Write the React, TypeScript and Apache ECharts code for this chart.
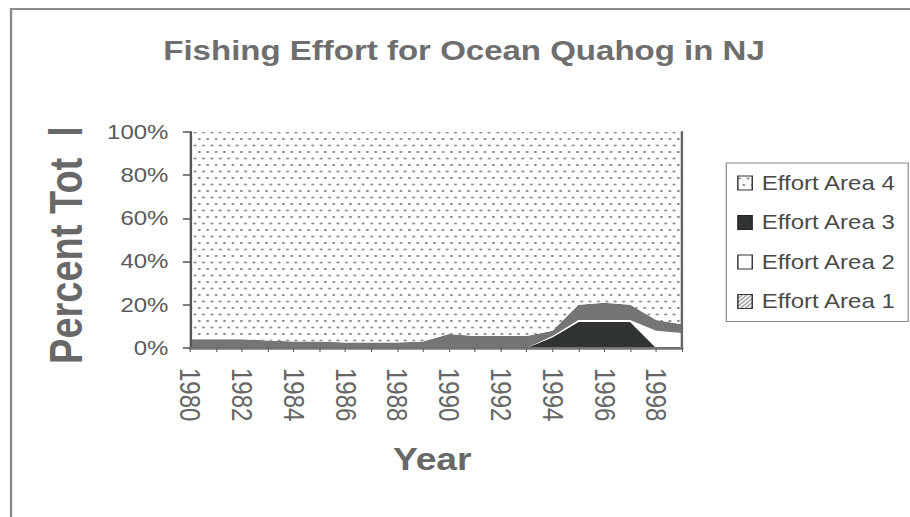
import React, { useEffect, useRef } from 'react';
import * as echarts from 'echarts';

const years = ['1980', '1981', '1982', '1983', '1984', '1985', '1986', '1987', '1988', '1989',
  '1990', '1991', '1992', '1993', '1994', '1995', '1996', '1997', '1998', '1999'];

// percent of total effort (stacked to 100%)
const effortArea3 = [0, 0, 0, 0, 0, 0, 0, 0, 0, 0, 0, 0, 0, 0, 5, 12, 12, 12, 0, 0];
const effortArea2 = [0, 0, 0, 0, 0, 0, 0, 0, 0, 0, 0, 0, 0, 0, 0.5, 1, 1, 1, 8, 7];
const effortArea1 = [4, 4, 4, 3.5, 3, 3, 2.5, 2.5, 2.5, 3, 6.5, 5.5, 5.5, 5.5, 2.5, 7, 8, 7, 5, 4];
const effortArea4 = [96, 96, 96, 96.5, 97, 97, 97.5, 97.5, 97.5, 97, 93.5, 94.5, 94.5, 94.5, 92, 80, 79, 80, 87, 89];

const yTicks = [0, 20, 40, 60, 80, 100];

const W = 758;
const FONT = "'Liberation Sans', Arial, sans-serif";

function makeDots() {
  const c = document.createElement('canvas');
  c.width = 7; c.height = 13;
  const g = c.getContext('2d')!;
  g.fillStyle = '#ffffff';
  g.fillRect(0, 0, 7, 13);
  g.fillStyle = '#666666';
  g.beginPath(); g.arc(1.5, 2.5, 1.05, 0, Math.PI * 2); g.fill();
  g.beginPath(); g.arc(5, 9, 1.05, 0, Math.PI * 2); g.fill();
  return { image: c.toDataURL(), repeat: 'repeat', imageWidth: 7, imageHeight: 13 };
}

function makeHatch() {
  const c = document.createElement('canvas');
  c.width = 4; c.height = 4;
  const g = c.getContext('2d')!;
  g.fillStyle = '#ffffff';
  g.fillRect(0, 0, 4, 4);
  g.strokeStyle = '#444444';
  g.lineWidth = 1;
  g.beginPath();
  g.moveTo(0, 4); g.lineTo(4, 0);
  g.moveTo(-1, 1); g.lineTo(1, -1);
  g.moveTo(3, 5); g.lineTo(5, 3);
  g.stroke();
  return { image: c.toDataURL(), repeat: 'repeat', imageWidth: 4, imageHeight: 4 };
}

export default function App() {
  const ref = useRef<HTMLDivElement>(null);

  useEffect(() => {
    const chart = echarts.init(ref.current!, null, { renderer: 'svg' });
    const dots = makeDots();
    const hatch = makeHatch();
    const gray = '#747674';
    const dark = '#2f3431';

    const areaSeries = (name: string, data: number[], color: any) => ({
      name,
      type: 'line',
      stack: 'total',
      data,
      symbol: 'none',
      showSymbol: false,
      lineStyle: { width: 0 },
      itemStyle: { color },
      areaStyle: { color, opacity: 1 },
      emphasis: { disabled: true },
    });

    chart.setOption({
      animation: false,
      backgroundColor: '#ffffff',
      title: {
        text: 'Fishing Effort for Ocean Quahog in NJ',
        left: 386.5,
        top: 36,
        textAlign: 'center',
        padding: 0,
        textStyle: { fontFamily: FONT, fontSize: 27.5, fontWeight: 'bold', color: '#6e6e6e' },
      },
      legend: {
        orient: 'vertical',
        left: 605,
        top: 163,
        padding: [10, 10, 10, 9],
        itemWidth: 12,
        itemHeight: 14,
        itemGap: 19.5,
        icon: 'rect',
        selectedMode: false,
        borderColor: '#8a8a8a',
        borderWidth: 1,
        textStyle: { fontFamily: FONT, fontSize: 20, lineHeight: 20, color: '#4a4a4a', padding: [0, 0, 0, 3] },
        data: [
          { name: 'Effort Area 4', itemStyle: { color: dots, borderColor: '#333', borderWidth: 1.2 } },
          { name: 'Effort Area 3', itemStyle: { color: dark, borderColor: '#222', borderWidth: 1 } },
          { name: 'Effort Area 2', itemStyle: { color: '#ffffff', borderColor: '#333', borderWidth: 1.2 } },
          { name: 'Effort Area 1', itemStyle: { color: hatch, borderColor: '#333', borderWidth: 1.2 } },
        ],
      },
      grid: { left: 158.3, right: 189.9, top: 132, bottom: 169 },
      xAxis: [
        {
          type: 'category',
          data: years,
          boundaryGap: false,
          z: 3,
          axisLine: { lineStyle: { color: '#555', width: 2 } },
          axisTick: { show: true, interval: 0, length: 4, lineStyle: { color: '#666' } },
          axisLabel: {
            interval: 1,
            rotate: -90,
            margin: 20,
            fontFamily: FONT,
            fontSize: 24,
            color: '#666',
          },
        },
        {
          type: 'category',
          data: years,
          boundaryGap: false,
          position: 'top',
          z: 3,
          axisLine: { lineStyle: { color: '#777', width: 2.5 } },
          axisTick: { show: false },
          axisLabel: { show: false },
        },
      ],
      yAxis: [
        {
          type: 'value',
          min: yTicks[0],
          max: yTicks[yTicks.length - 1],
          interval: 20,
          z: 3,
          splitLine: { show: false },
          axisLine: { show: true, lineStyle: { color: '#555', width: 2 } },
          axisTick: { show: true, length: 6, lineStyle: { color: '#555', width: 1.5 } },
          axisLabel: {
            margin: 18,
            fontFamily: FONT,
            fontSize: 20,
            color: '#5a5a5a',
            formatter: '{value}%',
          },
        },
        {
          type: 'value',
          min: 0,
          max: 100,
          interval: 20,
          position: 'right',
          z: 3,
          splitLine: { show: false },
          axisLine: { show: true, lineStyle: { color: '#666', width: 2 } },
          axisTick: { show: false },
          axisLabel: { show: false },
        },
      ],
      series: [
        areaSeries('Effort Area 3', effortArea3, dark),
        areaSeries('Effort Area 2', effortArea2, '#ffffff'),
        areaSeries('Effort Area 1', effortArea1, gray),
        areaSeries('Effort Area 4', effortArea4, dots),
      ],
      graphic: [
        {
          type: 'polyline',
          silent: true,
          shape: { points: [[9.2, 517], [9.2, 9], [758, 9]] },
          style: { stroke: '#8a8a8a', lineWidth: 2, fill: 'none' },
        },
        {
          type: 'text',
          x: 55,
          y: 245,
          rotation: Math.PI / 2,
          style: {
            text: 'Percent Tot  l',
            font: `bold 38px ${FONT}`,
            fill: '#686868',
            align: 'center',
            verticalAlign: 'middle',
          },
        },
        {
          type: 'text',
          x: 360,
          y: 459,
          style: {
            text: 'Year',
            font: `bold 31px ${FONT}`,
            fill: '#686868',
            align: 'center',
            verticalAlign: 'middle',
          },
        },
      ],
    });

    return () => chart.dispose();
  }, []);

  return (
    <div style={{ position: 'absolute', left: 0, top: 0, width: 910, height: 517, overflow: 'hidden', background: '#fff' }}>
      <div
        ref={ref}
        style={{ width: W, height: 517, transform: `scaleX(${910 / W})`, transformOrigin: '0 0' }}
      />
    </div>
  );
}
